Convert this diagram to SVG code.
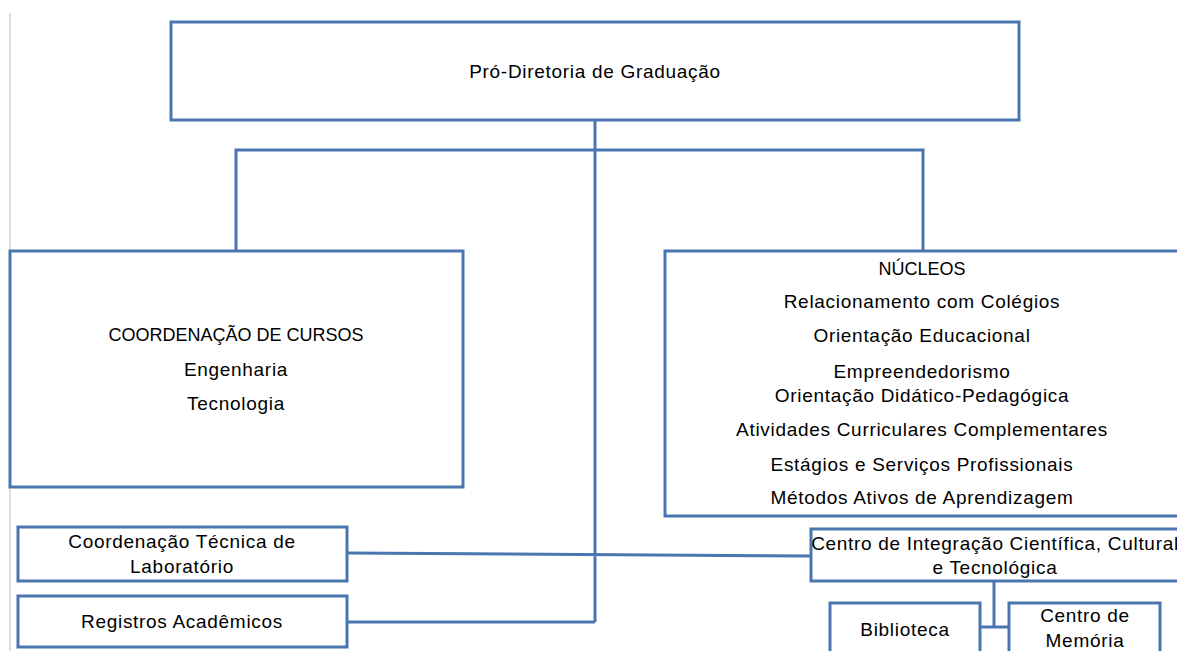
<svg xmlns="http://www.w3.org/2000/svg" width="1177" height="651" viewBox="0 0 1177 651">
<style>
.box{fill:#ffffff;stroke:#4a76b0;stroke-width:3}
.ln{fill:none;stroke:#4a76b0;stroke-width:3}
text{font-family:"Liberation Sans",Arial,sans-serif;font-size:19px;letter-spacing:0.7px;fill:#000;text-anchor:middle}
text.caps{font-size:18px;letter-spacing:0}
</style>
<rect width="1177" height="651" fill="#ffffff"/>
<line x1="10" y1="13" x2="10" y2="651" stroke="#d4d4d4" stroke-width="1.5"/>
<g id="connectors">
<path class="ln" d="M595 120 V622 M236 251 V150 H923 V251 M347 553 L811 556 M347 622 H595 M994 581 V627 M980 627 H1009"/>
</g>
<g id="pro-diretoria">
<rect class="box" x="171" y="22" width="848" height="98"/>
<text x="595" y="78">Pró-Diretoria de Graduação</text>
</g>
<g id="coordenacao-cursos">
<rect class="box" x="10" y="251" width="453" height="236"/>
<text class="caps" x="236" y="341">COORDENAÇÃO DE CURSOS</text>
<text x="236" y="376">Engenharia</text>
<text x="236" y="410">Tecnologia</text>
</g>
<g id="nucleos">
<rect class="box" x="665" y="251" width="520" height="265"/>
<text class="caps" x="922" y="275">NÚCLEOS</text>
<text x="922" y="308">Relacionamento com Colégios</text>
<text x="922" y="342">Orientação Educacional</text>
<text x="922" y="378">Empreendedorismo</text>
<text x="922" y="402">Orientação Didático-Pedagógica</text>
<text x="922" y="436">Atividades Curriculares Complementares</text>
<text x="922" y="471">Estágios e Serviços Profissionais</text>
<text x="922" y="504">Métodos Ativos de Aprendizagem</text>
</g>
<g id="coord-tecnica">
<rect class="box" x="18" y="527" width="329" height="54"/>
<text x="182" y="548">Coordenação Técnica de</text>
<text x="182" y="573">Laboratório</text>
</g>
<g id="registros">
<rect class="box" x="18" y="596" width="329" height="51"/>
<text x="182" y="628">Registros Acadêmicos</text>
</g>
<g id="centro-integracao">
<rect class="box" x="811" y="529" width="380" height="52"/>
<text x="995" y="550">Centro de Integração Científica, Cultural</text>
<text x="995" y="574">e Tecnológica</text>
</g>
<g id="biblioteca">
<rect class="box" x="830" y="603" width="150" height="60"/>
<text x="905" y="636">Biblioteca</text>
</g>
<g id="centro-memoria">
<rect class="box" x="1009" y="603" width="151" height="60"/>
<text x="1085" y="622">Centro de</text>
<text x="1085" y="647">Memória</text>
</g>
</svg>
